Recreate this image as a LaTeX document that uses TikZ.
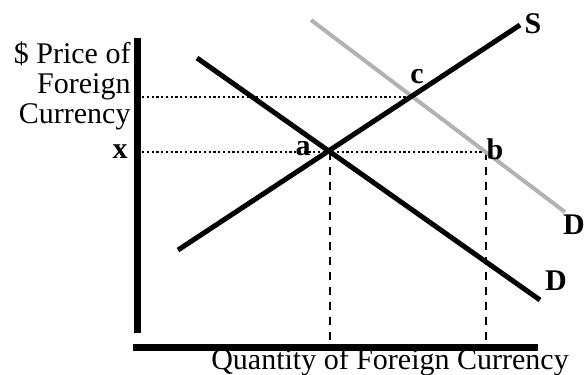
\documentclass[tikz,border=0pt]{standalone}
\usepackage{fontspec}
\setmainfont{Liberation Serif}
\usetikzlibrary{positioning}

\begin{document}
\begin{tikzpicture}[x=0.4pt, y=-0.4pt,
    axis/.style={line width=2.8pt},
    curve/.style={line width=2pt},
    shifted/.style={line width=1.6pt, gray!60},
    guide/.style={densely dotted, line width=0.9pt},
    drop/.style={dashed, line width=0.45pt},
    lbl/.style={font=\fontsize{12}{12}\selectfont\bfseries, inner sep=1pt},
    txt/.style={font=\fontsize{12}{12}\selectfont, inner sep=0pt}]
\useasboundingbox (0,0) rectangle (585,374);
% axes
\coordinate (ytop) at (137,38);
\coordinate (ybot) at (137,333);
\coordinate (xleft) at (133,347);
\coordinate (xright) at (538,347);
\draw[axis] (ytop) -- (ybot);
\draw[axis] (xleft) -- (xright);
% curve ends and points
\coordinate (s0) at (178,250);
\coordinate (s1) at (520,25);
\coordinate (d0) at (197,58);
\coordinate (d1) at (540,300);
\coordinate (g0) at (311,20);
\coordinate (g1) at (565,212);
\coordinate (a) at (330,152);
\coordinate (b) at (486,152);
\coordinate (c) at (412,97);
\coordinate (pc) at (142,97);
\coordinate (pa) at (142,152);
\coordinate (qa) at (330,340);
\coordinate (qb) at (486,340);
% guides
\draw[guide] (pc) -- (c);
\draw[guide] (pa) -- (b);
\draw[drop] (a) -- (qa);
\draw[drop] (b) -- (qb);
% curves
\draw[shifted] (g0) -- (g1);
\draw[curve] (d0) -- (d1);
\draw[curve] (s0) -- (s1);
% labels
\node[txt, align=right, anchor=east] (price) at (131,86) {\$ Price of\\Foreign\\Currency};
\node[txt, anchor=base] (qty) at (390,369) {Quantity of Foreign Currency};
\node[lbl] (xlbl) at (120,152) {x};
\node[lbl] (albl) at (303,149) {a};
\node[lbl] (blbl) at (495,149) {b};
\node[lbl] (clbl) at (417,77) {c};
\node[lbl] (slbl) at (533,24) {S};
\node[lbl] (dlbl) at (556,281) {D};
\node[lbl] (d2lbl) at (574,225) {D};
\end{tikzpicture}
\end{document}
